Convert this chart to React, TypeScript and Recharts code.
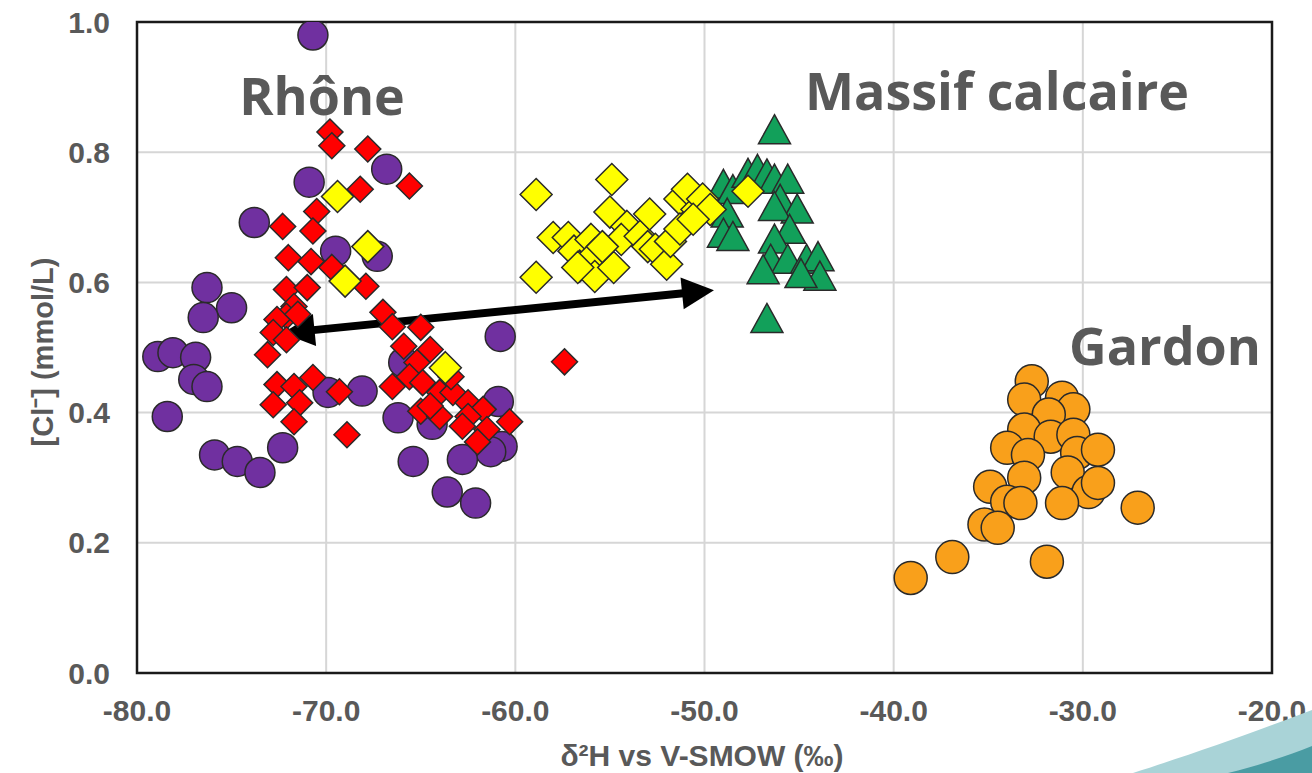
import {
  CartesianGrid,
  ReferenceArea,
  ReferenceLine,
  Scatter,
  ScatterChart,
  XAxis,
  YAxis,
} from "recharts";

// [δ2H, Cl-] pairs
const rhonePurple: [number, number][] = [
  [-70.7, 0.98], [-70.9, 0.754], [-66.8, 0.774], [-73.8, 0.692], [-69.5, 0.648],
  [-67.3, 0.64], [-76.3, 0.592], [-75.0, 0.561], [-76.5, 0.546], [-78.9, 0.486],
  [-78.1, 0.492], [-76.9, 0.485], [-77.0, 0.451], [-76.3, 0.44], [-78.4, 0.394],
  [-60.8, 0.517], [-69.9, 0.431], [-68.1, 0.433], [-65.9, 0.477], [-66.2, 0.392],
  [-64.4, 0.382], [-60.9, 0.417], [-60.7, 0.348], [-61.3, 0.34], [-62.8, 0.328],
  [-65.4, 0.325], [-72.3, 0.346], [-75.9, 0.335], [-74.7, 0.325], [-73.5, 0.308],
  [-63.6, 0.278], [-62.1, 0.261],
];

const rhoneRed: [number, number][] = [
  [-69.8, 0.831], [-69.7, 0.81], [-67.8, 0.805], [-65.6, 0.748], [-68.2, 0.743],
  [-70.5, 0.709], [-72.3, 0.686], [-70.7, 0.679], [-72.0, 0.638], [-70.8, 0.632],
  [-69.7, 0.623], [-67.9, 0.594], [-72.1, 0.589], [-71.0, 0.592], [-71.7, 0.563],
  [-72.1, 0.548], [-72.6, 0.543], [-71.5, 0.551], [-72.8, 0.523], [-72.1, 0.512],
  [-73.1, 0.489], [-67.0, 0.554], [-66.5, 0.532], [-65.0, 0.531], [-65.9, 0.502],
  [-64.5, 0.497], [-65.2, 0.477], [-65.6, 0.455], [-64.9, 0.446], [-64.0, 0.431],
  [-66.5, 0.44], [-69.3, 0.432], [-70.7, 0.454], [-72.6, 0.443], [-71.7, 0.44],
  [-72.8, 0.412], [-71.4, 0.415], [-71.7, 0.386], [-68.9, 0.366], [-65.0, 0.402],
  [-64.0, 0.394], [-63.3, 0.431], [-62.5, 0.415], [-61.7, 0.405], [-62.5, 0.394],
  [-61.5, 0.374], [-60.3, 0.386], [-62.0, 0.355], [-62.8, 0.379], [-63.4, 0.455],
  [-64.5, 0.41], [-57.4, 0.478],
];

const calcaireGreen: [number, number][] = [
  [-46.3, 0.83], [-46.7, 0.54], [-49.0, 0.746], [-48.5, 0.738], [-47.7, 0.763],
  [-47.2, 0.769], [-46.7, 0.762], [-46.3, 0.754], [-45.6, 0.754], [-46.0, 0.723],
  [-45.1, 0.708], [-46.3, 0.712], [-48.8, 0.702], [-49.0, 0.671], [-48.5, 0.666],
  [-45.5, 0.677], [-46.3, 0.662], [-46.5, 0.631], [-45.6, 0.631], [-44.6, 0.631],
  [-44.0, 0.635], [-43.9, 0.605], [-46.9, 0.615], [-44.9, 0.609],
];

const calcaireYellow: [number, number][] = [
  [-69.4, 0.732], [-67.8, 0.655], [-69.0, 0.602], [-63.7, 0.469],
  [-58.9, 0.735], [-58.9, 0.608], [-54.9, 0.758], [-58.0, 0.669], [-57.2, 0.669],
  [-56.9, 0.648], [-56.6, 0.625], [-56.0, 0.666], [-55.8, 0.643], [-55.8, 0.609],
  [-56.7, 0.623], [-54.8, 0.623], [-55.0, 0.708], [-54.1, 0.686], [-54.4, 0.666],
  [-53.4, 0.671], [-52.9, 0.705], [-53.0, 0.655], [-52.6, 0.651], [-52.0, 0.628],
  [-51.8, 0.663], [-51.3, 0.728], [-50.9, 0.743], [-50.4, 0.712], [-50.1, 0.728],
  [-49.7, 0.712], [-51.3, 0.682], [-50.6, 0.697], [-47.7, 0.74], [-55.4, 0.655],
];

const gardonOrange: [number, number][] = [
  [-32.7, 0.448], [-33.1, 0.42], [-31.1, 0.423], [-30.5, 0.405], [-31.8, 0.397],
  [-33.1, 0.374], [-31.7, 0.363], [-30.5, 0.366], [-34.0, 0.346], [-32.9, 0.335],
  [-30.3, 0.338], [-29.2, 0.343], [-30.8, 0.308], [-33.1, 0.3], [-34.9, 0.286],
  [-34.0, 0.263], [-33.3, 0.261], [-29.7, 0.278], [-29.2, 0.292], [-31.1, 0.261],
  [-27.1, 0.254], [-35.2, 0.228], [-34.5, 0.223], [-36.9, 0.178], [-31.9, 0.171],
  [-39.1, 0.146],
];

const xTicks = [-80, -70, -60, -50, -40, -30, -20];
const yTicks = [0, 0.2, 0.4, 0.6, 0.8, 1.0];

// arrow between the two end members
const arrowEnds: [number, number][] = [
  [-72.3, 0.522],
  [-49.5, 0.588],
];

const toPoints = (rows: [number, number][]) => rows.map(([x, y]) => ({ x, y }));

const EDGE = "#2a2a2a";
const GREY = "#595959";

function Circle({ cx, cy, fill, r }: any) {
  return <circle cx={cx} cy={cy} r={r} fill={fill} stroke={EDGE} strokeWidth={1.5} />;
}

function Diamond({ cx, cy, fill, s }: any) {
  return (
    <polygon
      points={`${cx},${cy - s} ${cx + s},${cy} ${cx},${cy + s} ${cx - s},${cy}`}
      fill={fill}
      stroke={EDGE}
      strokeWidth={1.5}
    />
  );
}

function Triangle({ cx, cy, fill }: any) {
  const w = 16;
  const h = 29;
  return (
    <polygon
      points={`${cx},${cy - h * 0.62} ${cx + w},${cy + h * 0.38} ${cx - w},${cy + h * 0.38}`}
      fill={fill}
      stroke={EDGE}
      strokeWidth={1.5}
    />
  );
}

function Arrow({ x1, y1, x2, y2 }: any) {
  const dx = x2 - x1;
  const dy = y2 - y1;
  const len = Math.hypot(dx, dy);
  const ux = dx / len;
  const uy = dy / len;
  const nx = -uy;
  const ny = ux;
  const hl = 32;
  const hw = 16;
  const head = (tx: number, ty: number, dir: number) => {
    const bx = tx - dir * ux * hl;
    const by = ty - dir * uy * hl;
    return `${tx},${ty} ${bx + nx * hw},${by + ny * hw} ${bx - nx * hw},${by - ny * hw}`;
  };
  return (
    <g>
      <line
        x1={x1 + ux * hl * 0.8}
        y1={y1 + uy * hl * 0.8}
        x2={x2 - ux * hl * 0.8}
        y2={y2 - uy * hl * 0.8}
        stroke="#000"
        strokeWidth={8}
      />
      <polygon points={head(x2, y2, 1)} fill="#000" />
      <polygon points={head(x1, y1, -1)} fill="#000" />
    </g>
  );
}

const tickStyle = {
  fill: GREY,
  fontSize: 30,
  fontWeight: 700,
  fontFamily: "'Liberation Sans', Arial, sans-serif",
};

export default function App() {
  return (
    <div style={{ position: "absolute", left: 0, top: 0, width: 1312, height: 773, background: "#fff" }}>
      <ScatterChart width={1312} height={773} margin={{ top: 22, right: 40, bottom: 0, left: 0 }}>
        <CartesianGrid stroke="#d6d6d6" strokeWidth={2} />
        <XAxis
          type="number"
          dataKey="x"
          domain={[-80, -20]}
          ticks={xTicks}
          tickFormatter={(v) => Number(v).toFixed(1)}
          tick={tickStyle}
          tickSize={0}
          tickMargin={27}
          axisLine={false}
          height={100}
          allowDataOverflow
        />
        <YAxis
          type="number"
          dataKey="y"
          domain={[0, 1]}
          ticks={yTicks}
          tickFormatter={(v) => Number(v).toFixed(1)}
          tick={tickStyle}
          tickSize={0}
          tickMargin={27}
          axisLine={false}
          width={137}
          allowDataOverflow
        />
        <ReferenceArea
          x1={-80}
          x2={-20}
          y1={0}
          y2={1}
          fill="none"
          stroke="#1a1a1a"
          strokeWidth={2.5}
          ifOverflow="visible"
        />
        <Scatter
          data={toPoints(rhonePurple)}
          isAnimationActive={false}
          shape={(p: any) => <Circle cx={p.cx} cy={p.cy} r={15} fill="#7030A0" />}
        />
        <Scatter
          data={toPoints(rhoneRed)}
          isAnimationActive={false}
          shape={(p: any) => <Diamond cx={p.cx} cy={p.cy} s={13} fill="#FF0000" />}
        />
        <Scatter
          data={toPoints(calcaireGreen)}
          isAnimationActive={false}
          shape={(p: any) => <Triangle cx={p.cx} cy={p.cy} fill="#12A05A" />}
        />
        <Scatter
          data={toPoints(calcaireYellow)}
          isAnimationActive={false}
          shape={(p: any) => <Diamond cx={p.cx} cy={p.cy} s={16} fill="#FFFF00" />}
        />
        <Scatter
          data={toPoints(gardonOrange)}
          isAnimationActive={false}
          shape={(p: any) => <Circle cx={p.cx} cy={p.cy} r={16.5} fill="#F9A01B" />}
        />
        <ReferenceLine
          segment={arrowEnds.map(([x, y]) => ({ x, y }))}
          ifOverflow="visible"
          shape={(p: any) => <Arrow {...p} />}
        />
      </ScatterChart>

      <svg
        width={1312}
        height={773}
        style={{ position: "absolute", left: 0, top: 0, pointerEvents: "none" }}
      >
        <path d="M1133,773 C1190,755 1260,730 1312,710 L1312,773 Z" fill="#A9D3D7" />
        <path d="M1228,773 C1260,765 1290,755 1312,746 L1312,773 Z" fill="#4A9CA3" />
        <g fontFamily="'Open Sans', sans-serif" fontWeight={700} fontSize={52} fill={GREY}>
          <text x={322} y={115} textAnchor="middle">Rhône</text>
          <text x={997} y={110} textAnchor="middle">Massif calcaire</text>
          <text x={1165} y={365} textAnchor="middle">Gardon</text>
        </g>
        <text
          x={702}
          y={766}
          textAnchor="middle"
          fontFamily="'Liberation Sans', Arial, sans-serif"
          fontWeight={700}
          fontSize={30}
          fill={GREY}
        >
          δ²H vs V-SMOW (‰)
        </text>
        <text
          transform="translate(53,352) rotate(-90)"
          textAnchor="middle"
          fontFamily="'Liberation Sans', Arial, sans-serif"
          fontWeight={700}
          fontSize={29}
          fill={GREY}
        >
          [Cl⁻] (mmol/L)
        </text>
      </svg>
    </div>
  );
}
